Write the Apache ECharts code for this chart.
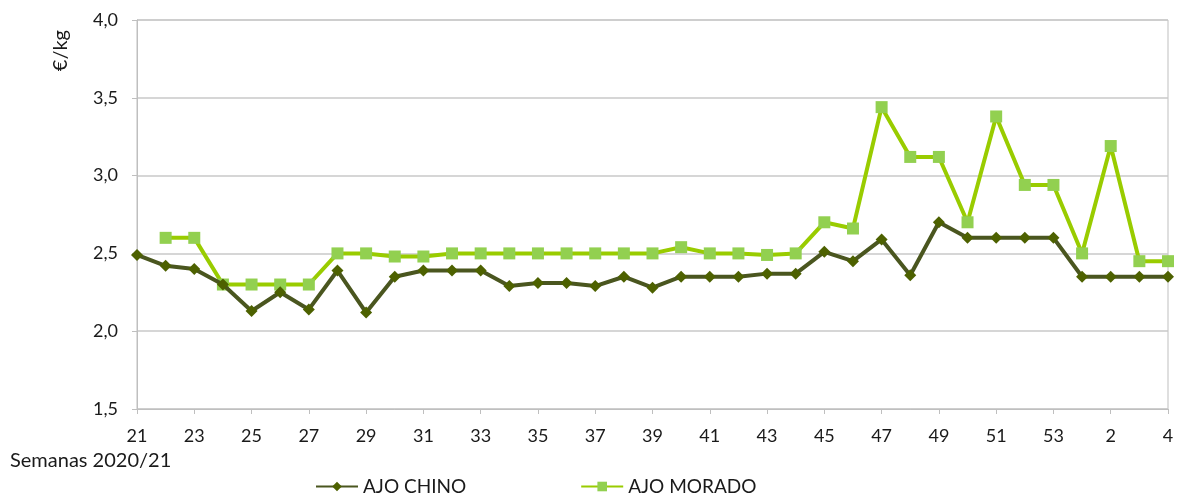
<!DOCTYPE html>
<html>
<head>
<meta charset="utf-8">
<script src="https://cdn.jsdelivr.net/npm/echarts@6/dist/echarts.min.js"></script>
<style>
html,body{margin:0;padding:0;background:#fff;}
#chart{width:1178px;height:498px;}
</style>
</head>
<body>
<div id="chart"></div>
<script>
// semanas 21..53 de 2020 y 1..4 de 2021
var weeks = ['21','22','23','24','25','26','27','28','29','30','31','32','33','34','35','36','37','38','39','40',
  '41','42','43','44','45','46','47','48','49','50','51','52','53','1','2','3','4'];

var ajoChino = [2.49,2.42,2.40,2.30,2.13,2.25,2.14,2.39,2.12,2.35,2.39,2.39,2.39,2.29,2.31,2.31,2.29,2.35,2.28,2.35,
  2.35,2.35,2.37,2.37,2.51,2.45,2.59,2.36,2.70,2.60,2.60,2.60,2.60,2.35,2.35,2.35,2.35];

var ajoMorado = [null,2.60,2.60,2.30,2.30,2.30,2.30,2.50,2.50,2.48,2.48,2.50,2.50,2.50,2.50,2.50,2.50,2.50,2.50,2.54,
  2.50,2.50,2.49,2.50,2.70,2.66,3.44,3.12,3.12,2.70,3.38,2.94,2.94,2.50,3.19,2.45,2.45];

var font = 'Lato, "Noto Sans", sans-serif';

var chart = echarts.init(document.getElementById('chart'));
var option = {
  animation: false,
  textStyle: { fontFamily: font },
  grid: {
    left: 137, right: 10, top: 20, bottom: 89,
    show: true, borderColor: '#bfbfbf', borderWidth: 1
  },
  legend: {
    bottom: -3,
    left: 310,
    itemGap: 114,
    itemWidth: 42,
    itemHeight: 12,
    textStyle: { fontFamily: font, fontSize: 19, color: '#1a1a1a' },
    data: ['AJO CHINO', 'AJO MORADO']
  },
  graphic: [
    {
      type: 'text',
      left: 51, top: 30,
      rotation: Math.PI / 2,
      style: { text: '€/kg', fontFamily: font, fontSize: 20, fill: '#1a1a1a' }
    },
    {
      type: 'text',
      left: 10, top: 451,
      style: { text: 'Semanas 2020/21', fontFamily: font, fontSize: 20, fill: '#1a1a1a' }
    }
  ],
  xAxis: {
    type: 'category',
    data: weeks,
    boundaryGap: false,
    axisLine: { lineStyle: { color: '#bfbfbf' } },
    axisTick: { show: true, interval: 1, length: 5, lineStyle: { color: '#bfbfbf' } },
    axisLabel: { interval: 1, margin: 18, fontSize: 18, color: '#1a1a1a' },
    splitLine: { show: false }
  },
  yAxis: {
    type: 'value',
    min: 1.5, max: 4.0, interval: 0.5,
    axisLine: { show: true, lineStyle: { color: '#bfbfbf' } },
    axisTick: { show: true, length: 5, lineStyle: { color: '#bfbfbf' } },
    axisLabel: {
      margin: 19, fontSize: 18, color: '#1a1a1a',
      formatter: function (v) { return v.toFixed(1).replace('.', ','); }
    },
    splitLine: { lineStyle: { color: '#c8c8c8', width: 1.5 } }
  },
  series: [
    {
      name: 'AJO CHINO',
      type: 'line',
      data: ajoChino,
      symbol: 'diamond',
      symbolSize: 12,
      lineStyle: { color: '#4a561f', width: 4 },
      itemStyle: { color: '#4d6100' },
      z: 3
    },
    {
      name: 'AJO MORADO',
      type: 'line',
      data: ajoMorado,
      symbol: 'rect',
      symbolSize: 12,
      lineStyle: { color: '#99cc00', width: 4 },
      itemStyle: { color: '#92d050' },
      z: 2
    }
  ]
};
chart.setOption(option);
</script>
</body>
</html>
